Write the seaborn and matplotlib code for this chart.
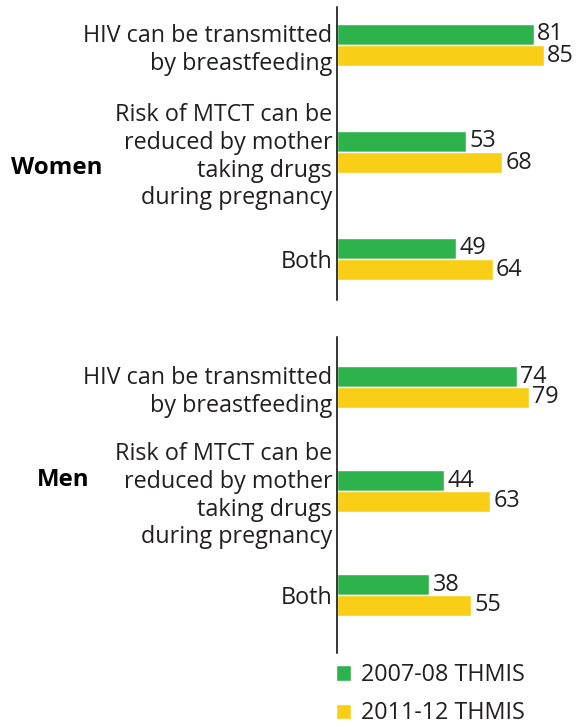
import pandas as pd
import matplotlib
matplotlib.use("Agg")
import matplotlib.pyplot as plt
import seaborn as sns

# data
statements = [
    "HIV can be transmitted\nby breastfeeding",
    "Risk of MTCT can be\nreduced by mother\ntaking drugs\nduring pregnancy",
    "Both",
]
surveys = ["2007-08 THMIS", "2011-12 THMIS"]
women_0708 = [81, 53, 49]
women_1112 = [85, 68, 64]
men_0708 = [74, 44, 38]
men_1112 = [79, 63, 55]

colors = ["#2eb24c", "#f8cf16"]
text_color = "#231f20"


def long_frame(first, second):
    rows = []
    for s, v in zip(statements, first):
        rows.append({"statement": s, "survey": surveys[0], "pct": v})
    for s, v in zip(statements, second):
        rows.append({"statement": s, "survey": surveys[1], "pct": v})
    return pd.DataFrame(rows)


women = long_frame(women_0708, women_1112)
men = long_frame(men_0708, men_1112)

sns.set_style("white")
plt.rcParams["font.family"] = ["Open Sans", "DejaVu Sans"]
plt.rcParams["text.color"] = text_color

W, H = 580, 727
fig = plt.figure(figsize=(W / 100, H / 100), dpi=100)

# axes placed in pixel terms: (top, bottom) in px
panels = [
    ("Women", women, 7, 300, (2.383, -0.355), 168, 57),
    ("Men", men, 337, 653, (2.558, -0.48), 480, 63),
]

fs = 16.8
for name, df, top, bottom, ylim, label_y, label_x in panels:
    ax = fig.add_axes([337 / W, 1 - bottom / H, (W - 337) / W, (bottom - top) / H])
    sns.barplot(data=df, y="statement", x="pct", hue="survey", orient="h",
                palette=colors, width=0.4, ax=ax, legend=(name == "Men"),
                saturation=1)
    ax.set_xlim(0, 100)
    ax.set_ylim(*ylim)
    ax.set_xlabel("")
    ax.set_ylabel("")
    ax.set_xticks([])
    for side in ["top", "right", "bottom"]:
        ax.spines[side].set_visible(False)
    ax.spines["left"].set_color("black")
    ax.spines["left"].set_linewidth(1.1)
    ax.tick_params(axis="y", length=0, pad=3.5, labelsize=fs, labelcolor=text_color)
    for label in ax.get_yticklabels():
        label.set_linespacing(1.2)
    for container in ax.containers:
        ax.bar_label(container, padding=2.5, fontsize=fs, color=text_color)
    fig.text(label_x / W, 1 - label_y / H, name, ha="center", va="center",
             fontsize=fs + 0.5, fontweight="bold", color="black")
    if name == "Men":
        handles, labels = ax.get_legend_handles_labels()
        ax.get_legend().remove()

fig.legend(handles, labels, loc="upper left", bbox_to_anchor=(336 / W, 1 - 663 / H),
           frameon=False, fontsize=fs, handlelength=0.64, handleheight=0.64,
           handletextpad=0.42, labelspacing=0.62, borderpad=0, borderaxespad=0,
           labelcolor=text_color)

fig.savefig("out.png", dpi=100)
